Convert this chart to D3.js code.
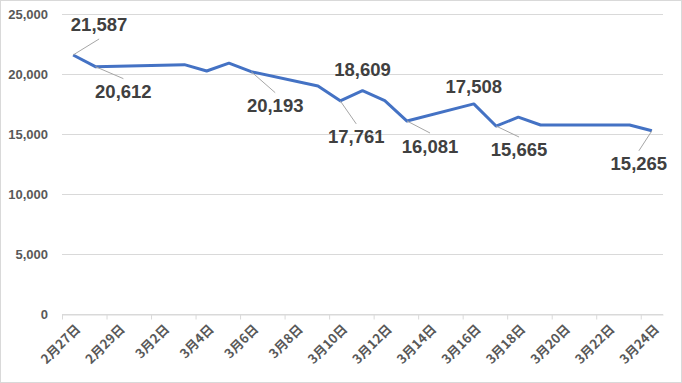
<!DOCTYPE html>
<html>
<head>
<meta charset="utf-8">
<script src="https://cdn.jsdelivr.net/npm/d3@7"></script>
<style>
  body { margin: 0; background: #fff; }
  svg { display: block; }
</style>
</head>
<body>
<div id="chart"></div>
<script>
// daily values, dates without a point are simply absent
var dates = ['2020-02-27', '2020-02-28', '2020-03-03', '2020-03-04', '2020-03-05',
             '2020-03-06', '2020-03-09', '2020-03-10', '2020-03-11', '2020-03-12',
             '2020-03-13', '2020-03-16', '2020-03-17', '2020-03-18', '2020-03-19',
             '2020-03-23', '2020-03-24'];
var values = [21587, 20612, 20780, 20250, 20900,
              20193, 19000, 17761, 18609, 17780,
              16081, 17508, 15665, 16400, 15750,
              15750, 15265];
var yTicks = [0, 5000, 10000, 15000, 20000, 25000];

// labelled points: index into data, label offset (dx, dy) and leader line
var labels = [
    {i: 0,  dx: 26,  dy: -30, leader: true},
    {i: 1,  dx: 28,  dy: 25,  leader: true},
    {i: 5,  dx: 24,  dy: 34,  leader: true},
    {i: 7,  dx: 16,  dy: 36,  leader: true},
    {i: 8,  dx: 0,   dy: -21, leader: false},
    {i: 10, dx: 23,  dy: 25,  leader: true},
    {i: 11, dx: 0,   dy: -17, leader: false},
    {i: 12, dx: 23,  dy: 24,  leader: true},
    {i: 16, dx: -13, dy: 33,  leader: true}
];

var W = 682, H = 383;
var margin = {top: 14, right: 19, bottom: 69, left: 62};
var parse = d3.timeParse('%Y-%m-%d');

var data = dates.map(function(d, i) { return {date: parse(d), value: values[i]}; });

var start = parse('2020-02-27'), end = parse('2020-03-25');
var x = d3.scaleTime()
    .domain([start, end])
    .range([margin.left, W - margin.right]);
var y = d3.scaleLinear()
    .domain([0, 25000])
    .range([H - margin.bottom, margin.top]);

// points sit in the middle of their day
var mid = function(d) { return x(d3.timeHour.offset(d, 12)); };
var halfDay = mid(start) - x(start);

var svg = d3.select('#chart').append('svg')
    .attr('width', W)
    .attr('height', H);

svg.append('rect')
    .attr('x', 0.5).attr('y', 0.5)
    .attr('width', W - 1).attr('height', H - 1)
    .attr('fill', '#fff')
    .attr('stroke', '#d9d9d9');

// gridlines
svg.append('g')
    .selectAll('line')
    .data(yTicks)
    .enter().append('line')
    .attr('x1', margin.left)
    .attr('x2', W - margin.right)
    .attr('y1', function(d) { return Math.round(y(d)) + 0.5; })
    .attr('y2', function(d) { return Math.round(y(d)) + 0.5; })
    .attr('stroke', '#d9d9d9')
    .attr('stroke-width', 1);

// y axis labels
var yAxis = svg.append('g')
    .attr('transform', 'translate(' + margin.left + ',0)')
    .call(d3.axisLeft(y).tickValues(yTicks).tickSize(0).tickPadding(14)
        .tickFormat(d3.format(',')));
yAxis.select('.domain').remove();
yAxis.selectAll('text')
    .style('font-family', 'Liberation Sans, Arial, sans-serif')
    .style('font-size', '13px')
    .style('font-weight', 'bold')
    .attr('fill', '#595959');

// x axis
var tickDates = d3.timeDay.range(start, end, 2);
var fmt = function(d) { return (d.getMonth() + 1) + '月' + d.getDate() + '日'; };
var xAxis = svg.append('g')
    .attr('transform', 'translate(0,' + (Math.round(y(0)) + 0.5) + ')')
    .call(d3.axisBottom(x).tickValues(tickDates).tickSize(5).tickSizeOuter(0).tickFormat(fmt));
xAxis.select('.domain').attr('stroke', '#d9d9d9');
xAxis.selectAll('.tick line').attr('stroke', '#d9d9d9');
xAxis.selectAll('.tick text')
    .attr('y', 0).attr('dy', 0)
    .attr('transform', 'translate(' + (halfDay + 5) + ',13) rotate(-45)')
    .style('text-anchor', 'end')
    .attr('dominant-baseline', 'middle')
    .style('font-family', 'Noto Sans CJK JP, sans-serif')
    .style('font-size', '13px')
    .style('font-weight', 'bold')
    .attr('fill', '#595959');

// the line
var line = d3.line()
    .x(function(d) { return mid(d.date); })
    .y(function(d) { return y(d.value); });

svg.append('path')
    .datum(data)
    .attr('d', line)
    .attr('fill', 'none')
    .attr('stroke', '#4472c4')
    .attr('stroke-width', 3)
    .attr('stroke-linejoin', 'round');

// data labels with leader lines
var fmtVal = d3.format(',');
var lab = svg.append('g').selectAll('g')
    .data(labels)
    .enter().append('g');

lab.filter(function(l) { return l.leader; })
    .append('line')
    .attr('x1', function(l) { return mid(data[l.i].date); })
    .attr('y1', function(l) { return y(data[l.i].value); })
    .attr('x2', function(l) { return mid(data[l.i].date) + l.dx; })
    .attr('y2', function(l) {
        var d = data[l.i];
        return y(d.value) + l.dy + (l.dy > 0 ? -13 : 14);
    })
    .attr('stroke', '#a6a6a6')
    .attr('stroke-width', 1);

lab.append('text')
    .attr('x', function(l) { return mid(data[l.i].date) + l.dx; })
    .attr('y', function(l) { return y(data[l.i].value) + l.dy; })
    .attr('dy', '0.35em')
    .attr('text-anchor', 'middle')
    .style('font-family', 'Liberation Sans, Arial, sans-serif')
    .style('font-size', '18.5px')
    .style('font-weight', 'bold')
    .attr('fill', '#404040')
    .text(function(l) { return fmtVal(data[l.i].value); });
</script>
</body>
</html>
